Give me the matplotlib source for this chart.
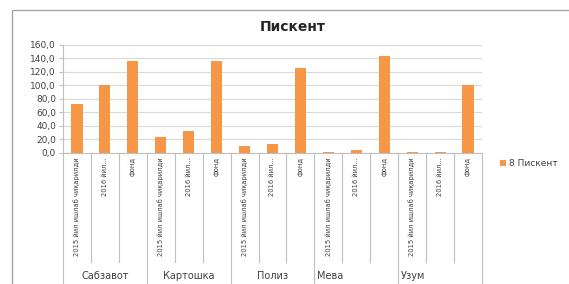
import matplotlib
matplotlib.use("Agg")
import matplotlib.pyplot as plt
from matplotlib.patches import Rectangle
import matplotlib.transforms as mtransforms
import numpy as np

plt.rcParams['font.family'] = ['DejaVu Sans']

groups = ["Сабзавот", "Картошка", "Полиз", "Мева", "Узум"]
sub_labels = ["2015 йил ишлаб чиқарилди", "2016 йил...", "фонд"]
values = [73, 100, 136,
          24, 33, 137,
          10, 13, 126,
          2, 4, 143,
          2, 2, 100]
yticks = [0, 20, 40, 60, 80, 100, 120, 140, 160]
series_name = "8 Пискент"
title = "Пискент"

W, H = 569, 284
fig = plt.figure(figsize=(W / 100, H / 100), dpi=100)
fig.patch.set_facecolor("white")

# outer chart frame
fig.add_artist(Rectangle((12 / W, -0.05), 1.2, 1 - 10 / H + 0.05, transform=fig.transFigure,
                         fill=False, edgecolor="#a6a6a6", linewidth=1.0))

left, right, top, bottom = 63, 482, 45, 153
ax = fig.add_axes([left / W, 1 - bottom / H, (right - left) / W, (bottom - top) / H])

n = len(values)
x = np.arange(n)
ax.bar(x, values, width=0.4, color="#F79646", zorder=3)
ax.set_xlim(-0.5, n - 0.5)
ax.set_ylim(0, 160)
ax.set_yticks(yticks)
ax.set_yticklabels([f"{v:.1f}".replace(".", ",") for v in yticks], fontsize=6.5,
                   color="#404040")
ax.yaxis.grid(True, color="#d9d9d9", linewidth=0.8, zorder=0)
for s in ["top", "right", "left"]:
    ax.spines[s].set_visible(False)
ax.spines["bottom"].set_color("#bfbfbf")
ax.tick_params(axis="y", length=3, color="#bfbfbf", pad=2)
ax.tick_params(axis="x", length=0, labelbottom=False)
ax.plot([-0.5, -0.5], [0, 160], color="#bfbfbf", linewidth=0.8, clip_on=False, zorder=2)

trans = mtransforms.blended_transform_factory(ax.transData, fig.transFigure)
# separators
for b in range(n + 1):
    xb = b - 0.5
    if b % 3 == 0:
        y_end = 0.0
    else:
        y_end = 1 - 262 / H
    ax.plot([xb, xb], [1 - bottom / H, y_end], transform=trans, color="#bfbfbf",
            linewidth=0.8, clip_on=False)

# category labels
for i in range(n):
    ax.text(i, 1 - 157 / H, sub_labels[i % 3], rotation=90, ha="center", va="top",
            fontsize=5.4, fontstretch="condensed", color="#404040", transform=trans)

# group labels
group_pos = [(1, "center"), (4, "center"), (7, "center"), (8.6, "left"), (11.6, "left")]
for g, (gx, ha) in zip(groups, group_pos):
    ax.text(gx, 1 - 276 / H, g, ha=ha, va="center", fontsize=7,
            color="#404040", transform=trans)

fig.text(293 / W, 1 - 27 / H, title, ha="center", va="center", fontsize=10,
         fontweight="bold", color="#262626")

# legend
fig.add_artist(Rectangle((500 / W, 1 - 166 / H), 6 / W, 6 / H, transform=fig.transFigure,
                         facecolor="#F79646", edgecolor="none"))
fig.text(509 / W, 1 - 163 / H, series_name, ha="left", va="center", fontsize=6.5,
         color="#404040")

fig.savefig("out.png", dpi=100)
